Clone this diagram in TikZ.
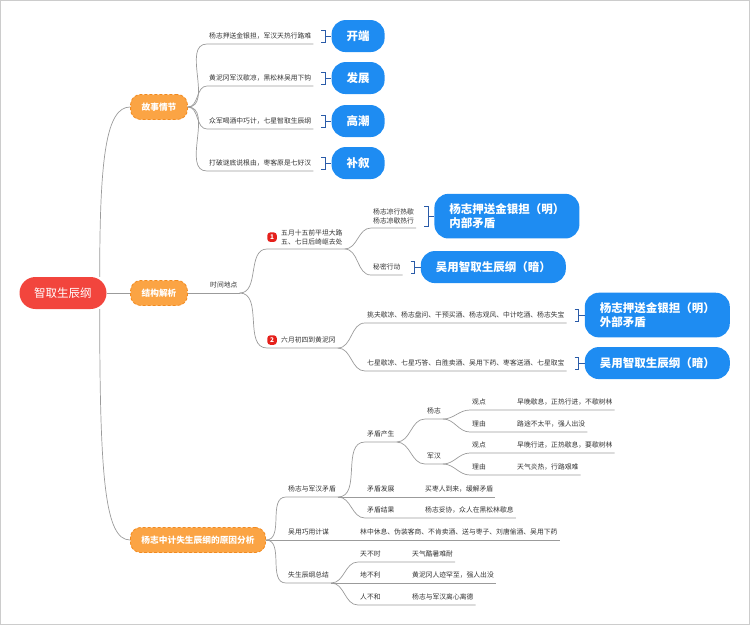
\documentclass[tikz,border=0pt]{standalone}
\usepackage{fontspec}
\setmainfont{Noto Sans CJK SC}
\usetikzlibrary{positioning}
\definecolor{genhong}{HTML}{F2453D}
\definecolor{cheng}{HTML}{FBA444}
\definecolor{chengbian}{HTML}{F28A1E}
\definecolor{lan}{HTML}{1E8CF2}
\definecolor{kuolan}{HTML}{2A5BA8}
\definecolor{xianhui}{HTML}{9B9B9B}
\definecolor{zihui}{HTML}{333333}
\definecolor{hongdian}{HTML}{E5201B}
\newcommand\xiao{\fontsize{6.8}{9}\selectfont}
% bracket between a text item and its blue box
\newcommand\kuohao[2]{%
  \draw[kuo] ([xshift=8pt,yshift=-2pt]#1.north east) -- ++(4pt,0)
     -- ([xshift=12pt,yshift=2pt]#1.south east) -- ++(-4pt,0);
  \draw[kuo] ([xshift=12pt]#1.east) -- (#2.west);}

\begin{document}
\begin{tikzpicture}[x=1pt,y=-1pt,
  gen/.style={fill=genhong,text=white,rounded corners=16pt,minimum width=87pt,minimum height=32pt,font=\fontsize{11.5}{13}\selectfont},
  zhu/.style={fill=cheng,draw=chengbian,dash pattern=on 3pt off 2pt,line width=0.8pt,rounded corners=10pt,text=white,minimum height=25pt,inner xsep=11pt,font=\bfseries\fontsize{8.7}{10}\selectfont},
  lanbox/.style={fill=lan,text=white,rounded corners=14pt,align=left,inner xsep=15pt,inner ysep=10pt,minimum height=32pt,font=\bfseries\fontsize{11.5}{13.5}\selectfont},
  wz/.style={font=\xiao,text=zihui,inner xsep=2pt,inner ysep=4pt,anchor=south west},
  ye/.style={wz,text height=6pt,text depth=1.5pt},
  hao/.style={fill=hongdian,text=white,rounded corners=3pt,minimum size=9.5pt,inner sep=0pt,font=\bfseries\fontsize{6.5}{7}\selectfont},
  xian/.style={draw=xianhui,line width=0.7pt},
  kuo/.style={draw=kuolan,line width=1pt}]
\useasboundingbox (0,0) rectangle (750,625);
\draw[black!20] (0.5,0.5) rectangle (749.5,624.5);

% main nodes
\node[gen] (gen) at (63,293) {智取生辰纲};
\node[zhu] (gs) at (159,107) {故事情节};
\node[zhu] (jg) at (159,293) {结构解析};
\node[zhu] (fx) at (198,540) {杨志中计失生辰纲的原因分析};

\draw[xian] ([xshift=-7pt]gen.north east) .. controls +(0,-120) and +(-24,0) .. (gs.west);
\draw[xian] (gen.east) -- (jg.west);
\draw[xian] ([xshift=-7pt]gen.south east) .. controls +(0,170) and +(-25,0) .. (fx.west);

% story
\node[ye] (g1) at (207,44) {杨志押送金银担，军汉天热行路难};
\node[ye] (g2) at (207,86) {黄泥冈军汉歇凉，黑松林吴用下钩};
\node[ye] (g3) at (207,129) {众军喝酒中巧计，七星智取生辰纲};
\node[ye] (g4) at (207,171) {打破谜底说根由，枣客原是七好汉};
\node[lanbox,right=18pt of g1] (kd) {开端};
\node[lanbox,right=18pt of g2] (fz) {发展};
\node[lanbox,right=18pt of g3] (gc) {高潮};
\node[lanbox,right=18pt of g4] (bx) {补叙};
\draw[xian] (gs.east) to[out=0,in=180] (g1.south west) -- (g1.south east);
\draw[xian] (gs.east) to[out=0,in=180] (g2.south west) -- (g2.south east);
\draw[xian] (gs.east) to[out=0,in=180] (g3.south west) -- (g3.south east);
\draw[xian] (gs.east) to[out=0,in=180] (g4.south west) -- (g4.south east);
\kuohao{g1}{kd}
\kuohao{g2}{fz}
\kuohao{g3}{gc}
\kuohao{g4}{bx}

% structure
\node[ye] (sjdd) at (208,293) {时间地点};
\node[wz,align=left] (w1) at (279,249) {五月十五前平坦大路\\五、七日后崎岖去处};
\node[hao,left=2pt of w1] (b1) {1};
\node[ye] (w2) at (279,348) {六月初四到黄泥冈};
\node[hao,left=2pt of w2] (b2) {2};
\node[wz,align=left] (w11) at (371,228) {杨志凉行热歇\\杨志凉歇热行};
\node[ye] (w12) at (371,275) {秘密行动};
\node[ye] (w21) at (365,323) {挑夫歇凉、杨志盘问、干预买酒、杨志观风、中计吃酒、杨志失宝};
\node[ye] (w22) at (365,371) {七星歇凉、七星巧答、白胜卖酒、吴用下药、枣客送酒、七星取宝};
\node[lanbox,right=18pt of w11] (lan1) {杨志押送金银担（明）\\内部矛盾};
\node[lanbox,right=18pt of w12] (lan2) {吴用智取生辰纲（暗）};
\node[lanbox,right=18pt of w21] (lan3) {杨志押送金银担（明）\\外部矛盾};
\node[lanbox,right=18pt of w22] (lan4) {吴用智取生辰纲（暗）};
\draw[xian] (jg.east) -- (sjdd.south east);
\draw[xian] (sjdd.south east) to[out=0,in=180] (b1.west |- w1.south) -- (w1.south east);
\draw[xian] (sjdd.south east) to[out=0,in=180] (b2.west |- w2.south) -- (w2.south east);
\draw[xian] (w1.south east) to[out=0,in=180] (w11.south west) -- (w11.south east);
\draw[xian] (w1.south east) to[out=0,in=180] (w12.south west) -- (w12.south east);
\draw[xian] (w2.south east) to[out=0,in=180] (w21.south west) -- (w21.south east);
\draw[xian] (w2.south east) to[out=0,in=180] (w22.south west) -- (w22.south east);
\kuohao{w11}{lan1}
\kuohao{w12}{lan2}
\kuohao{w21}{lan3}
\kuohao{w22}{lan4}

% analysis
\node[ye] (m0) at (286,497) {杨志与军汉矛盾};
\node[ye] (m4) at (286,540) {吴用巧用计谋};
\node[ye] (m5) at (286,583) {失生辰纲总结};
\node[ye] (m1) at (365,442) {矛盾产生};
\node[ye] (m2) at (365,497) {矛盾发展};
\node[ye] (m3) at (365,518) {矛盾结果};
\node[ye] (m2c) at (423,497) {买枣人到来，缓解矛盾};
\node[ye] (m3c) at (423,518) {杨志妥协，众人在黑松林歇息};
\node[ye] (yz) at (425,419) {杨志};
\node[ye] (jh) at (425,464) {军汉};
\node[ye] (gd1) at (470,410) {观点};
\node[ye] (ly1) at (470,432) {理由};
\node[ye] (gd2) at (470,453) {观点};
\node[ye] (ly2) at (470,475) {理由};
\node[ye] (gd1c) at (515,410) {早晚歇息，正热行进，不歇树林};
\node[ye] (ly1c) at (515,432) {路途不太平，强人出没};
\node[ye] (gd2c) at (515,453) {早晚行进，正热歇息，要歇树林};
\node[ye] (ly2c) at (515,475) {天气炎热，行路艰难};
\node[ye] (m4c) at (358,540) {林中休息、伪装客商、不肯卖酒、送与枣子、刘唐偷酒、吴用下药};
\node[ye] (t1) at (358,562) {天不时};
\node[ye] (t2) at (358,583) {地不利};
\node[ye] (t3) at (358,605) {人不和};
\node[ye] (t1c) at (410,562) {天气酷暑难耐};
\node[ye] (t2c) at (410,583) {黄泥冈人迹罕至，强人出没};
\node[ye] (t3c) at (410,605) {杨志与军汉离心离德};

\draw[xian] (fx.east) to[out=0,in=180] (m0.south west) -- (m0.south east);
\draw[xian] (fx.east) -- (m4c.south east);
\draw[xian] (fx.east) to[out=0,in=180] (m5.south west) -- (m5.south east);
\draw[xian] (m0.south east) to[out=0,in=180] (m1.south west) -- (m1.south east);
\draw[xian] (m0.south east) -- (m2c.south east);
\draw[xian] (m0.south east) to[out=0,in=180] (m3.south west) -- (m3c.south east);
\draw[xian] (m1.south east) to[out=0,in=180] (yz.south west) -- (yz.south east);
\draw[xian] (m1.south east) to[out=0,in=180] (jh.south west) -- (jh.south east);
\draw[xian] (yz.south east) to[out=0,in=180] (gd1.south west) -- (gd1c.south east);
\draw[xian] (yz.south east) to[out=0,in=180] (ly1.south west) -- (ly1c.south east);
\draw[xian] (jh.south east) to[out=0,in=180] (gd2.south west) -- (gd2c.south east);
\draw[xian] (jh.south east) to[out=0,in=180] (ly2.south west) -- (ly2c.south east);
\draw[xian] (m5.south east) to[out=0,in=180] (t1.south west) -- (t1c.south east);
\draw[xian] (m5.south east) -- (t2c.south east);
\draw[xian] (m5.south east) to[out=0,in=180] (t3.south west) -- (t3c.south east);
\end{tikzpicture}
\end{document}
